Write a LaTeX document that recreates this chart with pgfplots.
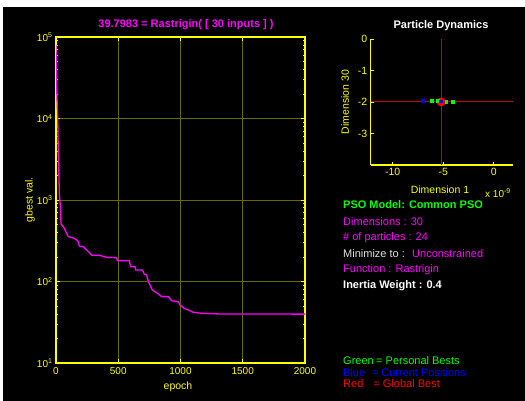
\documentclass[border=0pt]{standalone}
\usepackage{pgfplots}
\pgfplotsset{compat=1.18}
\usepackage{fontspec}
\setmainfont{Liberation Sans}
\definecolor{myyel}{RGB}{255,255,0}
\definecolor{gridyel}{RGB}{105,105,0}
\definecolor{mag}{RGB}{255,0,255}
\definecolor{lgreen}{RGB}{0,255,0}
\definecolor{lgray}{RGB}{225,225,225}
\definecolor{pblue}{RGB}{0,0,255}
\definecolor{crossred}{RGB}{200,0,0}
\begin{document}
\begin{tikzpicture}[x=1pt,y=1pt]
\useasboundingbox (0,0) rectangle (525,401);
\fill[white] (0,0) rectangle (525,401);
\fill[black] (3,0) rectangle (525,394);
% main convergence axis
\begin{axis}[at={(56pt,38pt)}, anchor=south west, scale only axis,
  width=249pt, height=326pt,
  ymode=log, xmin=0, xmax=2000, ymin=10, ymax=100000,
  axis line style={myyel, line width=1.4pt},
  tick style={myyel, line width=0.8pt},
  major tick length=4pt, minor tick length=2pt,
  tick align=inside,
  xtick={0,500,1000,1500,2000}, xticklabels={0,500,1000,1500,2000},
  ytick={10,100,1000,10000,100000},
  yticklabels={10\textsuperscript{1},10\textsuperscript{2},10\textsuperscript{3},10\textsuperscript{4},10\textsuperscript{5}},
  minor ytick={20,30,40,50,60,70,80,90,200,300,400,500,600,700,800,900,2000,3000,4000,5000,6000,7000,8000,9000,20000,30000,40000,50000,60000,70000,80000,90000},
  grid=major, major grid style={gridyel, line width=0.8pt},
  minor grid style={draw=none},
  ticklabel style={myyel, font=\fontsize{10}{12}\selectfont},
  xticklabel style={yshift=-1pt},
]
\addplot[mag, line width=1.3pt] coordinates {
(0,80000) (4,27000) (10,15000) (14,10000) (18,4100) (27,1208) (38,718) (40,508)
(59,471) (86,390) (99,355) (126,348) (161,329) (179,308) (187,273) (219,267)
(246,244) (287,211) (353,209) (407,198) (487,196) (493,180) (589,180) (600,152)
(635,152) (640,138) (696,138) (707,124) (728,120) (742,99.6) (755,90.6) (774,78.7)
(809,73) (849,65.2) (902,65.2) (929,58.1) (983,56.5) (996,51.5) (1028,46.9)
(1063,44.7) (1103,41.9) (1170,40.7) (1331,39.9) (2000,39.7983)
};
\end{axis}
% particle dynamics axis
\begin{axis}[at={(370.7pt,236pt)}, anchor=south west, scale only axis,
  width=142pt, height=126pt,
  xmin=-12.18, xmax=1.88, ymin=-4, ymax=0,
  axis x line*=bottom, axis y line*=left,
  axis line style={myyel, line width=1.2pt, -},
  tick style={myyel, line width=0.8pt},
  major tick length=3pt, tick align=inside,
  xtick={-10,-5,0}, xticklabels={-10,-5,0},
  ytick={-3,-2,-1,0}, yticklabels={-3,-2,-1,0},
  ticklabel style={myyel, font=\fontsize{10.5}{12}\selectfont},
  clip=false,
]
\addplot[draw=crossred, line width=1.2pt, mark=none] coordinates {(-5.2,-4) (-5.2,0)};
\addplot[draw=crossred, line width=1.2pt, mark=none] coordinates {(-12.18,-1.98) (1.88,-1.98)};
\addplot[only marks, mark=*, mark size=4.2pt, mark options={fill=red, draw=red}] coordinates {(-5.2,-2.0)};
\addplot[only marks, mark=square*, mark size=1.3pt, mark options={fill=lgreen, draw=lgreen}] coordinates {(-6.13,-1.95) (-5.53,-1.95) (-4.7,-1.99) (-4.05,-2.0)};
\addplot[only marks, mark=square*, mark size=1.3pt, mark options={fill=pblue, draw=pblue}] coordinates {(-7.02,-1.96) (-5.25,-1.97)};
\end{axis}
% titles and labels
\node[mag, font=\bfseries\fontsize{11}{13}\selectfont] at (186,376) {39.7983 = Rastrigin( [ 30 inputs ] )};
\node[myyel, rotate=90, font=\fontsize{10.5}{12}\selectfont] at (30,201) {gbest val.};
\node[myyel, font=\fontsize{10.5}{12}\selectfont] at (178,14) {epoch};
\node[white, font=\bfseries\fontsize{11}{13}\selectfont] at (441,375) {Particle Dynamics};
\node[myyel, rotate=90, font=\fontsize{10.5}{12}\selectfont] at (345,299) {Dimension 30};
\node[myyel, font=\fontsize{10.5}{12}\selectfont] at (440,211) {Dimension 1};
\node[myyel, font=\fontsize{10}{12}\selectfont] at (498,208) {x 10\textsuperscript{-9}};
% info text
\begin{scope}[every node/.style={anchor=west, inner sep=0pt, font=\fontsize{11}{13}\selectfont}]
\node[lgreen, font=\bfseries\fontsize{11}{13}\selectfont] at (343,196) {PSO Model: Common PSO};
\node[mag] at (343,179.3) {Dimensions : 30};
\node[mag] at (343,163.7) {\# of particles : 24};
\node[lgray] at (343,147.7) {Minimize to :};
\node[mag] at (412,147.7) {Unconstrained};
\node[mag] at (343,131.7) {Function : Rastrigin};
\node[white, font=\bfseries\fontsize{11}{13}\selectfont] at (343,115.3) {Inertia Weight : 0.4};
\node[lgreen] at (343,40.3) {Green};
\node[lgreen] at (376,40.3) {= Personal Bests};
\node[pblue] at (343,28.7) {Blue};
\node[pblue] at (371.7,28.7) {= Current Positions};
\node[red] at (343,17) {Red};
\node[red] at (373.3,17) {= Global Best};
\end{scope}
\end{tikzpicture}
\end{document}
